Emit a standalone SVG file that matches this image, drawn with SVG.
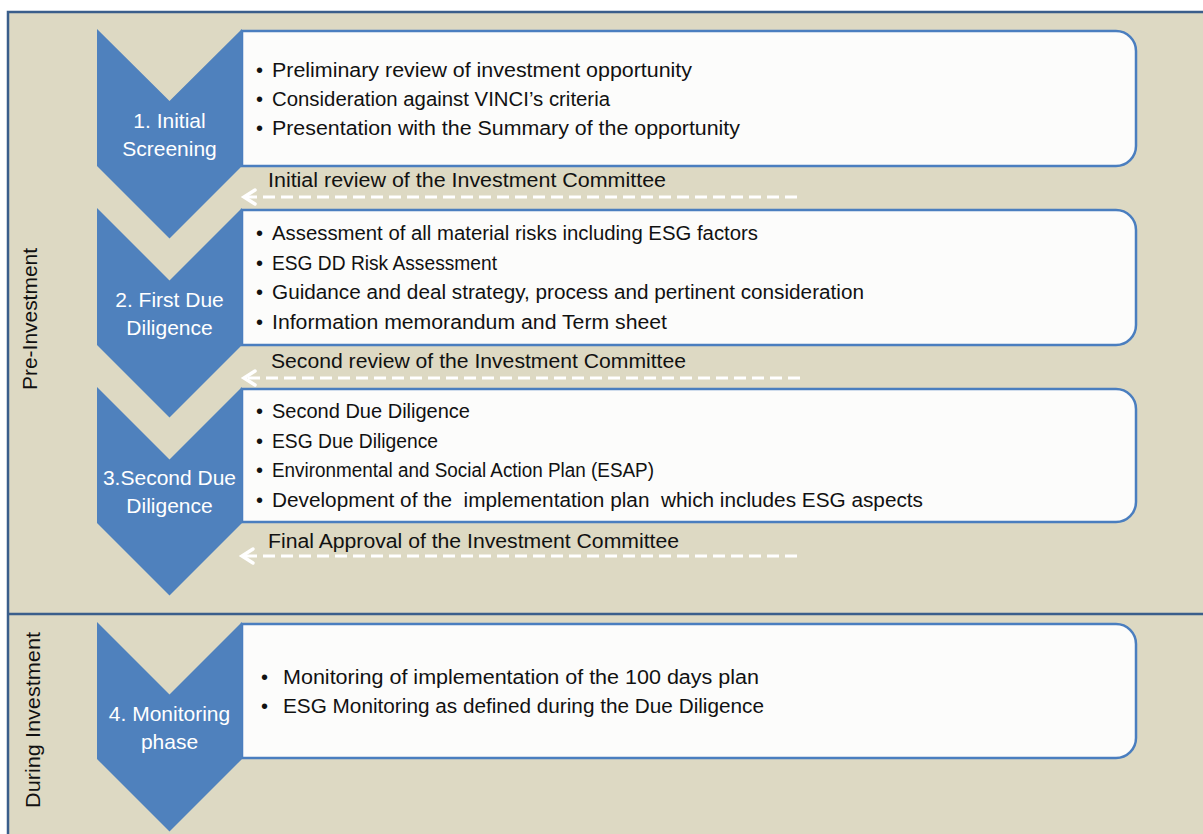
<svg xmlns="http://www.w3.org/2000/svg" width="1203" height="834" viewBox="0 0 1203 834">
  <defs>
    <style>
      .frame { fill: #DDD9C3; stroke: #3A5E8B; stroke-width: 2.5; }
      .divider { stroke: #3A5E8B; stroke-width: 2.5; }
      .chev { fill: #4F81BD; }
      .box { fill: #FCFCFB; stroke: #4A7EBF; stroke-width: 2.5; }
      .step { font-family: "Liberation Sans", Arial, sans-serif; font-size: 21px; fill: #FFFFFF; text-anchor: middle; }
      .item { font-family: "Liberation Sans", Arial, sans-serif; font-size: 20px; fill: #111111; }
      .phase { font-family: "Liberation Sans", Arial, sans-serif; font-size: 20px; fill: #111111; text-anchor: middle; }
      .review { font-family: "Liberation Sans", Arial, sans-serif; font-size: 20px; fill: #111111; }
      .dash { stroke: #FFFFFF; stroke-width: 3; stroke-dasharray: 12 6; fill: none; }
      .head { stroke: #FFFFFF; stroke-width: 3.5; fill: none; stroke-linecap: round; stroke-linejoin: miter; }
    </style>
  </defs>

  <!-- background panel with phase divider -->
  <g id="frame">
    <rect class="frame" x="8" y="12" width="1212" height="840"/>
    <line class="divider" x1="8" y1="614" x2="1203" y2="614"/>
    <text class="phase" transform="translate(37,319) rotate(-90)" textLength="142" lengthAdjust="spacingAndGlyphs">Pre-Investment</text>
    <text class="phase" transform="translate(40,720) rotate(-90)" textLength="176" lengthAdjust="spacingAndGlyphs">During Investment</text>
  </g>

  <!-- step 1 -->
  <g id="step1">
    <path class="box" d="M242,31 H1116 A20,20 0 0 1 1136,51 V146 A20,20 0 0 1 1116,166 H242 Z"/>
    <polygon class="chev" points="97,29 169.5,101 242,29 242,166 169.5,238.5 97,166"/>
    <text class="step" x="169.5" y="128">1. Initial</text>
    <text class="step" x="169.5" y="156">Screening</text>
    <text class="item" x="256" y="76.5">•</text>
    <text class="item" x="272" y="76.5" textLength="420" lengthAdjust="spacingAndGlyphs">Preliminary review of investment opportunity</text>
    <text class="item" x="256" y="105.5">•</text>
    <text class="item" x="272" y="105.5" textLength="338" lengthAdjust="spacingAndGlyphs">Consideration against VINCI’s criteria</text>
    <text class="item" x="256" y="134.5">•</text>
    <text class="item" x="272" y="134.5" textLength="468" lengthAdjust="spacingAndGlyphs">Presentation with the Summary of the opportunity</text>
  </g>

  <!-- step 2 -->
  <g id="step2">
    <path class="box" d="M242,210 H1116 A20,20 0 0 1 1136,230 V325 A20,20 0 0 1 1116,345 H242 Z"/>
    <polygon class="chev" points="97,208 169.5,280.5 242,208 242,345 169.5,417.5 97,345"/>
    <text class="step" x="169.5" y="307">2. First Due</text>
    <text class="step" x="169.5" y="335">Diligence</text>
    <text class="item" x="256" y="240">•</text>
    <text class="item" x="272" y="240" textLength="486" lengthAdjust="spacingAndGlyphs">Assessment of all material risks including ESG factors</text>
    <text class="item" x="256" y="269.5">•</text>
    <text class="item" x="272" y="269.5" textLength="225" lengthAdjust="spacingAndGlyphs">ESG DD Risk Assessment</text>
    <text class="item" x="256" y="299">•</text>
    <text class="item" x="272" y="299" textLength="592" lengthAdjust="spacingAndGlyphs">Guidance and deal strategy, process and pertinent consideration</text>
    <text class="item" x="256" y="328.5">•</text>
    <text class="item" x="272" y="328.5" textLength="395" lengthAdjust="spacingAndGlyphs">Information memorandum and Term sheet</text>
  </g>

  <!-- step 3 -->
  <g id="step3">
    <path class="box" d="M242,389 H1116 A20,20 0 0 1 1136,409 V502 A20,20 0 0 1 1116,522 H242 Z"/>
    <polygon class="chev" points="97,387 169.5,459.5 242,387 242,523 169.5,595.5 97,523"/>
    <text class="step" x="169.5" y="485">3.Second Due</text>
    <text class="step" x="169.5" y="513">Diligence</text>
    <text class="item" x="256" y="418">•</text>
    <text class="item" x="272" y="418" textLength="198" lengthAdjust="spacingAndGlyphs">Second Due Diligence</text>
    <text class="item" x="256" y="447.5">•</text>
    <text class="item" x="272" y="447.5" textLength="166" lengthAdjust="spacingAndGlyphs">ESG Due Diligence</text>
    <text class="item" x="256" y="477">•</text>
    <text class="item" x="272" y="477" textLength="382" lengthAdjust="spacingAndGlyphs">Environmental and Social Action Plan (ESAP)</text>
    <text class="item" x="256" y="506.5">•</text>
    <text class="item" x="272" y="506.5" textLength="651" lengthAdjust="spacingAndGlyphs" style="white-space:pre">Development of the  implementation plan  which includes ESG aspects</text>
  </g>

  <!-- step 4 -->
  <g id="step4">
    <path class="box" d="M242,624 H1116 A20,20 0 0 1 1136,644 V738 A20,20 0 0 1 1116,758 H242 Z"/>
    <polygon class="chev" points="97,622 169.5,694.5 242,622 242,759 169.5,831.5 97,759"/>
    <text class="step" x="169.5" y="721">4. Monitoring</text>
    <text class="step" x="169.5" y="749">phase</text>
    <text class="item" x="261" y="684">•</text>
    <text class="item" x="283" y="684" textLength="476" lengthAdjust="spacingAndGlyphs">Monitoring of implementation of the 100 days plan</text>
    <text class="item" x="261" y="713">•</text>
    <text class="item" x="283" y="713" textLength="481" lengthAdjust="spacingAndGlyphs">ESG Monitoring as defined during the Due Diligence</text>
  </g>

  <!-- committee review connectors -->
  <g id="connectors">
    <line class="dash" x1="797" y1="197" x2="247" y2="197"/>
    <polyline class="head" points="255,190 244,197 255,204"/>
    <text class="review" x="268" y="187" textLength="398" lengthAdjust="spacingAndGlyphs">Initial review of the Investment Committee</text>

    <line class="dash" x1="800" y1="378" x2="247" y2="378"/>
    <polyline class="head" points="255,371 244,378 255,385"/>
    <text class="review" x="271" y="368" textLength="415" lengthAdjust="spacingAndGlyphs">Second review of the Investment Committee</text>

    <line class="dash" x1="797" y1="556" x2="245" y2="556"/>
    <polyline class="head" points="253,549 242,556 253,563"/>
    <text class="review" x="268" y="548" textLength="411" lengthAdjust="spacingAndGlyphs">Final Approval of the Investment Committee</text>
  </g>
</svg>
